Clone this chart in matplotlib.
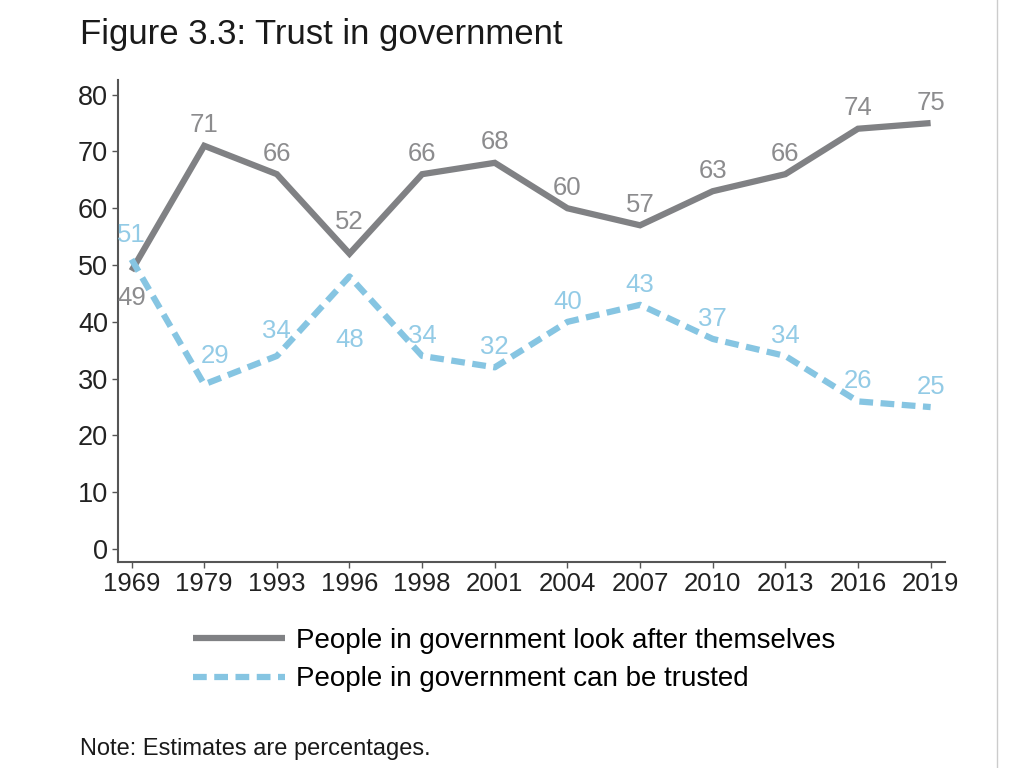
import matplotlib.pyplot as plt

plt.rcParams["font.family"] = ["Liberation Sans", "DejaVu Sans"]

# data
years = ["1969", "1979", "1993", "1996", "1998", "2001", "2004", "2007",
         "2010", "2013", "2016", "2019"]
look_after = [49, 71, 66, 52, 66, 68, 60, 57, 63, 66, 74, 75]
trusted = [51, 29, 34, 48, 34, 32, 40, 43, 37, 34, 26, 25]

grey = "#808184"
grey_txt = "#8c8c8e"
blue = "#86c5e2"
blue_txt = "#93cbe6"

fig = plt.figure(figsize=(10.24, 7.68), dpi=100)
ax = fig.add_axes([0.115, 0.268, 0.808, 0.628])

x = list(range(len(years)))
l1, = ax.plot(x, look_after, color=grey, lw=4.5, solid_capstyle="butt",
              solid_joinstyle="miter",
              label="People in government look after themselves")
l2, = ax.plot(x, trusted, color=blue, lw=4.5, linestyle=(0, (2.2, 1.2)),
              dash_capstyle="butt",
              label="People in government can be trusted")

# labels: above by default, a few moved
for i, v in enumerate(look_after):
    dx, dy, va = 0, 6, "bottom"
    if i == 0:
        dx, dy, va = 0, -11, "top"
    if i == 3:
        dy = 14
    ax.annotate(str(v), (i, v), xytext=(dx, dy), textcoords="offset points",
                ha="center", va=va, fontsize=18.5, color=grey_txt)
for i, v in enumerate(trusted):
    dx, dy, va = 0, 6, "bottom"
    if i == 0:
        dy = 9
    if i == 1:
        dx, dy = 8, 12
    if i == 2:
        dy = 9
    if i == 3:
        dx, dy, va = 0, -37, "top"
    ax.annotate(str(v), (i, v), xytext=(dx, dy), textcoords="offset points",
                ha="center", va=va, fontsize=18.5, color=blue_txt)

ax.set_xlim(-0.19, 11.2)
ax.set_ylim(-2.3, 82.6)
ax.set_xticks(x)
ax.set_xticklabels(years)
ax.set_yticks(range(0, 81, 10))
ax.tick_params(axis="both", colors="#555555", labelcolor="#222222",
               length=4, width=1, direction="out", pad=3)
ax.tick_params(axis="x", labelsize=18.5)
ax.tick_params(axis="y", labelsize=19.5)
for s in ["top", "right"]:
    ax.spines[s].set_visible(False)
for s in ["left", "bottom"]:
    ax.spines[s].set_color("#555555")
    ax.spines[s].set_linewidth(1.5)

fig.text(0.078, 0.955, "Figure 3.3: Trust in government", fontsize=25,
         color="#1a1a1a", ha="left", va="center")

fig.legend(handles=[l1, l2], loc="upper left", bbox_to_anchor=(0.178, 0.197),
           frameon=False, fontsize=20, handlelength=3.3, handletextpad=0.4,
           labelspacing=0.45, borderaxespad=0)

fig.text(0.078, 0.025, "Note: Estimates are percentages.", fontsize=17,
         color="#1a1a1a", ha="left", va="center")

fig.add_artist(plt.Line2D([0.974, 0.974], [0, 1], color="#cccccc", lw=1,
                          transform=fig.transFigure))

plt.savefig("out.png", dpi=100)
